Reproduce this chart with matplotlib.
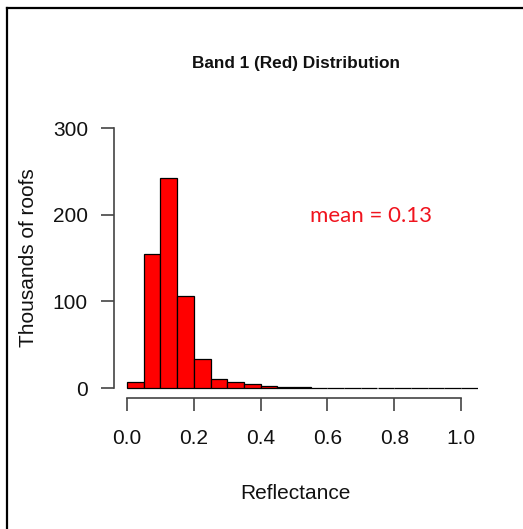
import matplotlib
matplotlib.use("Agg")
import matplotlib.pyplot as plt
from matplotlib.lines import Line2D

# histogram of red band reflectance, counts in thousands of roofs
bin_edges = [round(0.05 * i, 2) for i in range(22)]
counts = [7.3, 155, 242, 106, 33.4, 10.7, 6.5, 4.5, 2.5, 1.5, 0.8,
          0.4, 0.2, 0.1, 0, 0, 0, 0, 0, 0, 0]
x_ticks = [0.0, 0.2, 0.4, 0.6, 0.8, 1.0]
x_labels = ["0.0", "0.2", "0.4", "0.6", "0.8", "1.0"]
y_ticks = [0, 100, 200, 300]
mean_text = "mean = 0.13"

W, H = 523, 529
fig = plt.figure(figsize=(W / 100, H / 100), dpi=100)
plt.rcParams["font.family"] = ["Liberation Sans", "DejaVu Sans"]

# axes box in pixels: data x 0..1 -> 127..461, y 0..300 -> 388..128
xpx = lambda v: 127 + v * 334
ypx = lambda v: 388 - v * 260 / 300
xlim = (-0.04, 1.05)
ylim = (-11.5, 312)
left, right = xpx(xlim[0]), xpx(xlim[1])
bottom, top = ypx(ylim[0]), ypx(ylim[1])
ax = fig.add_axes([left / W, 1 - bottom / H, (right - left) / W, (bottom - top) / H])

widths = [bin_edges[i + 1] - bin_edges[i] for i in range(len(counts))]
ax.bar(bin_edges[:-1], counts, width=widths, align="edge",
       color="#ff0000", edgecolor="black", linewidth=0.9)

ax.set_xlim(*xlim)
ax.set_ylim(*ylim)
for s in ("top", "right"):
    ax.spines[s].set_visible(False)
ax.spines["left"].set_bounds(0, 300)
ax.spines["bottom"].set_bounds(0, 1)
for s in ("left", "bottom"):
    ax.spines[s].set_color("#444444")
    ax.spines[s].set_linewidth(1.2)

ax.set_xticks(x_ticks, x_labels)
ax.set_yticks(y_ticks)
ax.tick_params(axis="both", length=9.5, width=1.2, color="#444444",
               labelsize=15, labelcolor="#111111")
ax.tick_params(axis="x", pad=13)
ax.tick_params(axis="y", pad=9)

ax.set_xlabel("Reflectance", fontsize=15, labelpad=26, color="#111111")
ax.set_ylabel("Thousands of roofs", fontsize=15, labelpad=11, color="#111111")
ax.set_title("Band 1 (Red) Distribution", fontsize=12.4, fontweight="bold",
             pad=36, color="#111111")

ax.text(0.548, 198.5, mean_text, color="#f0141e", fontsize=16,
        family=["Lato", "DejaVu Sans"], ha="left", va="center")

# frame around the figure (top and left edges visible)
fig.add_artist(Line2D([6.5 / W, 1], [1 - 7.5 / H, 1 - 7.5 / H], color="black", lw=1.6))
fig.add_artist(Line2D([6.5 / W, 6.5 / W], [0, 1 - 7.5 / H], color="black", lw=1.6))

fig.savefig("out.png", dpi=100)
